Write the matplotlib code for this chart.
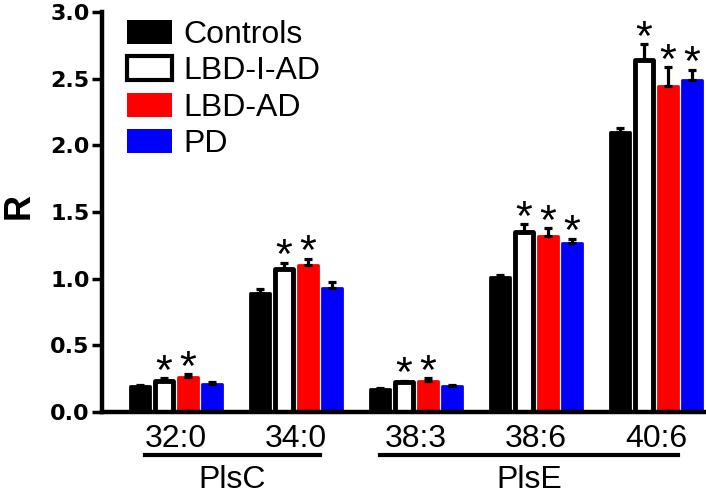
import numpy as np
import matplotlib
matplotlib.use('Agg')
import matplotlib.pyplot as plt
from matplotlib.patches import Patch
import matplotlib.transforms as mtransforms

plt.rcParams['font.family'] = ['Liberation Sans', 'DejaVu Sans']

species = ['32:0', '34:0', '38:3', '38:6', '40:6']
groups = ['Controls', 'LBD-I-AD', 'LBD-AD', 'PD']
values = {
    'Controls': [0.19, 0.89, 0.17, 1.01, 2.10],
    'LBD-I-AD': [0.23, 1.07, 0.22, 1.35, 2.64],
    'LBD-AD':   [0.26, 1.10, 0.23, 1.32, 2.45],
    'PD':       [0.21, 0.93, 0.19, 1.27, 2.49],
}
errors = {
    'Controls': [0.01, 0.03, 0.01, 0.02, 0.03],
    'LBD-I-AD': [0.02, 0.05, 0.01, 0.06, 0.12],
    'LBD-AD':   [0.02, 0.05, 0.02, 0.06, 0.14],
    'PD':       [0.01, 0.04, 0.01, 0.03, 0.08],
}
stars = {
    'Controls': [0, 0, 0, 0, 0],
    'LBD-I-AD': [1, 1, 1, 1, 1],
    'LBD-AD':   [1, 1, 1, 1, 1],
    'PD':       [0, 0, 0, 1, 1],
}
classes = [('PlsC', 0, 1), ('PlsE', 2, 4)]

colors = {'Controls': 'black', 'LBD-I-AD': 'white', 'LBD-AD': '#ff0000', 'PD': '#0000ff'}

fig = plt.figure(figsize=(7.06, 4.94), dpi=100)
ax = fig.add_axes([0.1445, 0.167, 0.8555, 0.8077])

x = np.arange(len(species))
step = 0.2
for k, g in enumerate(groups):
    pos = x + (k - 1.5) * step
    v = np.array(values[g])
    e = np.array(errors[g])
    if g == 'LBD-I-AD':
        bars = ax.bar(pos, v, width=0.143, color='white', edgecolor='black', linewidth=3.5, zorder=2)
    else:
        bars = ax.bar(pos, v, width=0.16, color=colors[g], edgecolor=colors[g], linewidth=2, zorder=2)
    for b in bars:
        b.set_joinstyle('round')
    ax.errorbar(pos, v, yerr=[np.zeros_like(e), e], fmt='none', ecolor='black',
                elinewidth=2.3, capsize=2.8, capthick=2.3, zorder=3)
    for p, val, err, s in zip(pos, v, e, stars[g]):
        if s:
            ax.annotate('*', xy=(p, val + err), xytext=(0, -4), textcoords='offset points',
                        ha='center', va='baseline', fontsize=31)

ax.set_xlim(-0.617, 4.417)
ax.set_ylim(0, 3.0)
ax.set_yticks(np.arange(0, 3.01, 0.5))
ax.set_yticklabels(['%.1f' % t for t in np.arange(0, 3.01, 0.5)], fontsize=16, fontweight='bold',
                   family='DejaVu Sans')
ax.set_xticks(x)
ax.set_xticklabels(species, fontsize=23)
ax.tick_params(axis='x', length=0, pad=9)
ax.tick_params(axis='y', length=7, width=2.5, pad=2)
ax.set_ylabel('R', fontsize=26, fontweight='bold', va='center')
ax.yaxis.set_label_coords(-0.137, 0.515)
for side in ['top', 'right']:
    ax.spines[side].set_visible(False)
for side in ['left', 'bottom']:
    ax.spines[side].set_linewidth(3.2)

trans = mtransforms.blended_transform_factory(ax.transData, ax.transAxes)
for name, a, b in classes:
    x0 = a - 0.26 if a == 0 else a - 0.3
    x1 = b + 0.2 if b == 1 else b + 0.18
    ax.plot([x0, x1], [-0.11, -0.11], color='black', lw=3, transform=trans, clip_on=False)
    ax.text((x0 + x1) / 2, -0.172, name, transform=trans, ha='center', va='center', fontsize=23)

handles = [Patch(facecolor=colors[g], edgecolor='black' if g != 'LBD-AD' and g != 'PD' else colors[g],
                 linewidth=3 if g == 'LBD-I-AD' else 0) for g in groups]
ax.legend(handles, groups, loc='upper left', bbox_to_anchor=(0.041, 0.982), frameon=False,
          fontsize=23, handlelength=1.4, handleheight=0.78, handletextpad=0.36,
          labelspacing=0.2, borderpad=0, borderaxespad=0)

fig.savefig('out.png', dpi=100)
